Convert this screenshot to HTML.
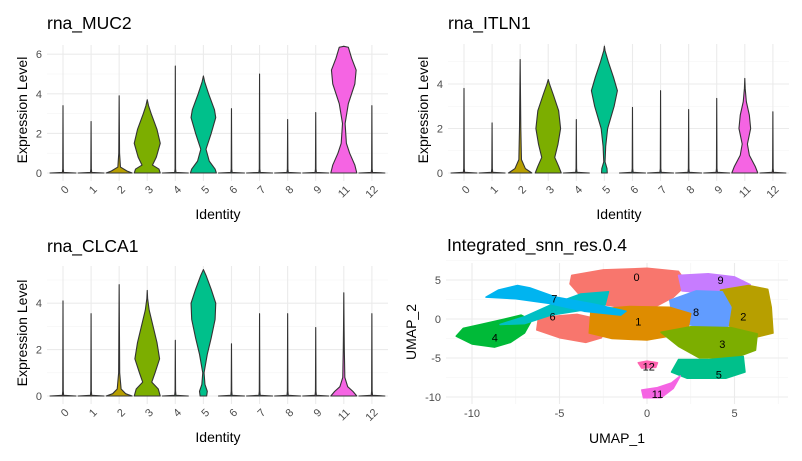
<!DOCTYPE html>
<html><head><meta charset="utf-8"><style>
html,body{margin:0;padding:0;background:#fff;}
svg{display:block;font-family:"Liberation Sans",sans-serif;}
</style></head><body>
<svg id="fig" width="802" height="461" viewBox="0 0 802 461"></svg>
<script>
const NS='http://www.w3.org/2000/svg';
const svg=document.getElementById('fig');
const categories=['0','1','2','3','4','5','6','7','8','9','11','12'];
const colors=['#F8766D','#DE8C00','#B79F00','#7CAE00','#00BA38','#00C08B','#00BFC4','#00B4F0','#619CFF','#C77CFF','#F564E3','#FF64B0'];
const mucMax=[3.4,2.6,3.9,3.7,5.4,4.9,3.25,5.0,2.7,3.05,6.4,3.4];
const itlnMax=[3.8,2.25,5.1,4.2,2.4,5.7,2.95,3.7,2.85,3.35,4.25,2.75];
const clcaMax=[4.1,3.55,4.8,4.55,2.4,5.45,2.25,3.55,3.55,2.95,4.45,3.55];
const mucShapes={'2':[[0,1],[0.1,0.6],[0.3,0.1],[1,0.03]],'3':[[0,1],[0.2,0.9],[0.4,0.4],[0.8,0.7],[1.5,1.0],[2.2,0.75],[3,0.3],[3.4,0.1]],'5':[[0,1],[0.2,0.9],[0.6,0.45],[1.2,0.2],[2,0.6],[2.8,0.95],[3.2,0.85],[4,0.4],[4.6,0.1]],'11':[[0,1],[0.4,0.85],[1,0.45],[1.5,0.2],[2.5,0.1],[3.5,0.35],[4.5,0.85],[5.2,0.95],[5.8,0.6],[6.35,0.35]]};
const itlnShapes={'2':[[0,0.9],[0.2,0.4],[0.6,0.1],[2,0.05]],'3':[[0,1],[0.3,0.8],[0.7,0.5],[1.3,0.75],[2,0.95],[2.8,0.8],[3.5,0.4],[4.0,0.1]],'5':[[0,0.22],[0.2,0.2],[0.5,0.05],[1.2,0.1],[2,0.25],[3,0.75],[3.7,1],[4.3,0.7],[5,0.3],[5.5,0.05]],'11':[[0,1],[0.3,0.8],[0.8,0.35],[1.3,0.2],[2,0.45],[2.6,0.35],[3.2,0.12],[3.8,0.03]]};
const clcaShapes={'2':[[0,1],[0.1,0.5],[0.3,0.15],[1,0.04]],'3':[[0,1],[0.3,0.85],[0.6,0.35],[1,0.6],[1.6,0.95],[2.3,0.75],[3,0.45],[3.7,0.15],[4.2,0.03]],'5':[[0,0.25],[0.2,0.3],[0.5,0.12],[1,0.05],[1.8,0.3],[2.5,0.6],[3.3,0.9],[4,0.95],[4.6,0.6],[5.2,0.2]],'11':[[0,1],[0.2,0.7],[0.4,0.3],[0.8,0.08],[2,0.04],[3,0.02]]};
const yTicks1=[0,2,4,6];
const yTicks2=[0,2,4];
const yTicks3=[0,2,4];
const umapXTicks=[-10,-5,0,5];
const umapYTicks=[5,0,-5,-10];
const clusterIds=['0','0','9','2','8','1','3','5','11','12','4','6','7'];
const clusterColorIdx=[0,0,9,2,8,1,3,5,10,11,4,6,7];
const clusterPolys=[
[[-4.3,5.6],[-2.5,6.3],[0,6.5],[1.8,6.1],[2.3,4.5],[1.5,2.8],[0.5,1.6],[-1.5,1.5],[-3.5,2.2],[-4.4,4.5]],
[[-6.2,0.2],[-4,0.6],[-2.2,-0.3],[-2.6,-2.4],[-3.5,-3],[-5,-2.4],[-6.3,-1.4]],
[[1.8,5.6],[3.5,5.8],[5,5.4],[5.9,4.4],[5.2,3.6],[3.5,3.3],[2,3.6]],
[[4.2,3.7],[5.8,4.3],[6.9,3.8],[7.1,1.5],[7.2,-1.8],[6.3,-2.3],[5,-1.5],[4.3,0]],
[[1.3,2.4],[2.8,3.6],[4.3,3.5],[4.8,1.5],[4.6,-1.3],[3,-1],[1.5,-0.3]],
[[-3.2,1.2],[-1,1.6],[1.3,1.5],[2.5,0.7],[2.3,-1.8],[0,-2.7],[-2,-2.5],[-3.3,-1.8]],
[[0.8,-1.7],[2.5,-1],[4.8,-1.1],[6.3,-1.9],[6.2,-4],[5,-5],[3,-5],[1.8,-3.5]],
[[1.8,-5.2],[3.5,-5.2],[5.5,-4.8],[5.6,-6.8],[4.5,-7.6],[2.3,-7.6],[1.4,-6.8]],
[[-0.3,-9.1],[0.6,-8.8],[1.4,-8.2],[1.9,-7.3],[1.5,-8.9],[0.8,-10.1],[-0.2,-10.1]],
[[-0.5,-5.6],[0,-5.4],[0.6,-5.6],[0.5,-6.2],[-0.3,-6.3]],
[[-10.9,-2.2],[-10.5,-1.2],[-9.5,-0.7],[-8.3,-0.1],[-7.2,0.5],[-6.6,-0.2],[-7,-1.8],[-7.8,-3],[-8.7,-3.6],[-10,-3.2]],
[[-8.4,-0.7],[-7,0.3],[-5.5,1.8],[-3.8,3.2],[-2.2,3.5],[-2.4,1.8],[-3.5,1.2],[-5.5,0.5],[-7,-0.6]],
[[-9.2,2.8],[-8.5,3.7],[-7.4,4.3],[-6.7,4],[-5.2,2.8],[-3,1.9],[-1.2,1],[-1.5,0.5],[-3.6,1],[-5.6,2],[-7.5,2.6]]];
const labelIds=['0','9','7','8','2','6','1','4','3','12','5','11'];
const labelX=[-0.6,4.2,-5.3,2.8,5.5,-5.4,-0.5,-8.7,4.3,0.1,4.1,0.6];
const labelY=[5.4,5.0,2.6,0.9,0.3,0.3,-0.3,-2.4,-3.2,-6.1,-7.1,-9.6];

function el(tag,attrs,parent){const e=document.createElementNS(NS,tag);for(const k in attrs)e.setAttribute(k,attrs[k]);(parent||svg).appendChild(e);return e;}
function txt(s,attrs,parent){const t=el('text',attrs,parent);t.textContent=s;return t;}

function violinPanel(name,title,ox,oy,y0,unit,ymaxPx,ticks,maxes,shapes){
  const g=el('g',{});
  
  
  const xs=i=>ox+63+i*28.08;
  const ys=v=>y0-v*unit;
  const left=ox+47,right=ox+388,top=ymaxPx,bottom=y0+8;
  for(let i=0;i<ticks.length;i++){const v=ticks[i]+1;if(ys(v)>top)el('line',{x1:left,x2:right,y1:ys(v),y2:ys(v),stroke:'#f3f3f3','stroke-width':0.6},g);}
  for(const t of ticks){const l=el('line',{x1:left,x2:right,y1:ys(t),y2:ys(t),stroke:'#ebebeb','stroke-width':1.1},g);}
  categories.forEach((c,i)=>el('line',{x1:xs(i),x2:xs(i),y1:top,y2:bottom,stroke:'#ebebeb','stroke-width':1.1},g));
  categories.forEach((c,i)=>{
    const hw=13;const cx=xs(i);
    let prof=shapes[c]?shapes[c].slice():[[0,1],[0.03,0.05],[0.2,0.02]];
    prof=prof.concat([[maxes[i],0]]);
    let d='M'+(cx-hw*prof[0][1])+','+ys(0);
    for(const p of prof)d+=' L'+(cx+hw*p[1])+','+ys(p[0]);
    for(let k=prof.length-1;k>=0;k--)d+=' L'+(cx-hw*prof[k][1])+','+ys(prof[k][0]);
    d+='Z';
    const p=el('path',{d:d,fill:colors[i],stroke:'#333','stroke-width':1.1,'stroke-linejoin':'round'},g);
    
    
    const lb=txt(c,{x:0,y:0,'font-size':11,fill:'#4d4d4d','text-anchor':'end','dominant-baseline':'central',transform:'translate('+(cx+4.5)+','+(oy+188)+') rotate(-45)'},g);
    
    
  });
  for(const t of ticks){const tl=txt(String(t),{x:ox+42,y:ys(t)+4,'font-size':11,fill:'#4d4d4d','text-anchor':'end'},g);}
  const ti=txt(title,{x:ox+47,y:oy+29,'font-size':17.5,fill:'#000'},g);
  
  const yl=txt('Expression Level',{x:ox+27,y:oy+110,'font-size':14,fill:'#000','text-anchor':'middle',transform:'rotate(-90 '+(ox+27)+' '+(oy+110)+')'},g);
  
  const xl=txt('Identity',{x:ox+218,y:oy+219,'font-size':14,fill:'#000','text-anchor':'middle'},g);
  
}
violinPanel('muc2','rna_MUC2',0,0,173,19.8,45,yTicks1,mucMax,mucShapes);
violinPanel('itln1','rna_ITLN1',401,0,173,22.25,44,yTicks2,itlnMax,itlnShapes);
violinPanel('clca1','rna_CLCA1',0,223,396,23.2,266,yTicks3,clcaMax,clcaShapes);

const ug=el('g',{});


const ux=v=>647+v*17.5;
const uy=v=>319-v*7.8;
const uL=446,uR=788,uT=263,uB=404;
[7.5,2.5,-2.5,-7.5].forEach(v=>el('line',{x1:uL,x2:uR,y1:uy(v),y2:uy(v),stroke:'#f3f3f3','stroke-width':0.6},ug));
[-7.5,-2.5,2.5,7.5].forEach(v=>el('line',{x1:ux(v),x2:ux(v),y1:uT,y2:uB,stroke:'#f3f3f3','stroke-width':0.6},ug));
umapYTicks.forEach(v=>{el('line',{x1:uL,x2:uR,y1:uy(v),y2:uy(v),stroke:'#ebebeb','stroke-width':1.1},ug);
  const t=txt(String(v),{x:441,y:uy(v)+4,'font-size':11,fill:'#4d4d4d','text-anchor':'end'},ug);});
umapXTicks.forEach(v=>{el('line',{x1:ux(v),x2:ux(v),y1:uT,y2:uB,stroke:'#ebebeb','stroke-width':1.1},ug);
  const t=txt(String(v),{x:ux(v),y:417,'font-size':11,fill:'#4d4d4d','text-anchor':'middle'},ug);});
clusterPolys.forEach((poly,k)=>{
  const pts=poly.map(p=>ux(p[0])+','+uy(p[1])).join(' ');
  const pg=el('polygon',{points:pts,fill:colors[clusterColorIdx[k]],stroke:colors[clusterColorIdx[k]],'stroke-width':1.5,'stroke-linejoin':'round'},ug);
  
  
});
labelIds.forEach((id,i)=>{const t=txt(id,{x:ux(labelX[i]),y:uy(labelY[i])+4,'font-size':11,fill:'#000','text-anchor':'middle'},ug);
  });
const ut=txt('Integrated_snn_res.0.4',{x:447,y:251,'font-size':17.5,fill:'#000'},ug);

const ux1=txt('UMAP_1',{x:617,y:443,'font-size':14,fill:'#000','text-anchor':'middle'},ug);

const uy1=txt('UMAP_2',{x:416,y:332,'font-size':14,fill:'#000','text-anchor':'middle',transform:'rotate(-90 416 332)'},ug);

</script>
</body></html>
